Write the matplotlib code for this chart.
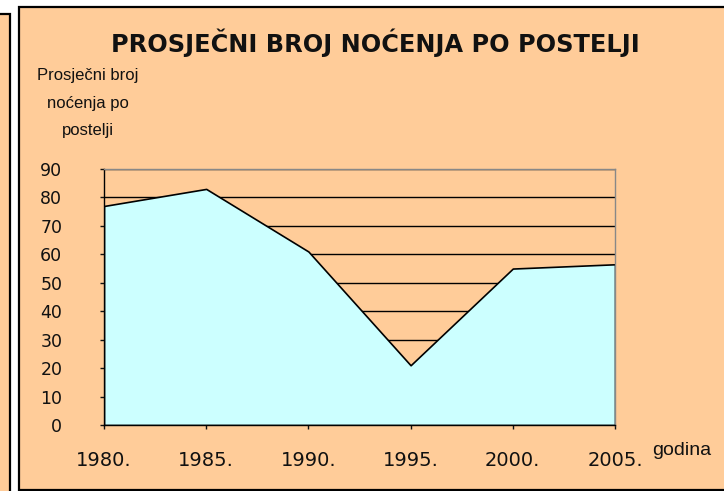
import matplotlib
matplotlib.use("Agg")
import matplotlib.pyplot as plt
from matplotlib.patches import Rectangle

# data
years = [1980, 1985, 1990, 1995, 2000, 2005]
nocenja = [77, 83, 61, 21, 55, 56.5]
year_labels = ["1980.", "1985.", "1990.", "1995.", "2000.", "2005."]
y_ticks = [0, 10, 20, 30, 40, 50, 60, 70, 80, 90]

W, H = 724, 491
orange = "#FFCC99"
cyan = "#CCFFFF"

def fx(px):
    return px / W

def fy(py):
    return 1 - py / H

fig = plt.figure(figsize=(W / 100, H / 100), dpi=100, facecolor="white")

# left neighbouring panel and main chart panel
fig.patches.append(Rectangle((fx(-10), fy(500)), fx(9.5) - fx(-10), fy(14) - fy(500),
                             transform=fig.transFigure, facecolor=orange,
                             edgecolor="black", lw=1.6, zorder=-2))
fig.patches.append(Rectangle((fx(18.5), fy(489.5)), fx(740) - fx(18.5), fy(6.5) - fy(489.5),
                             transform=fig.transFigure, facecolor=orange,
                             edgecolor="black", lw=1.6, zorder=-2))

ax = fig.add_axes([fx(104), fy(425), fx(615) - fx(104), fy(169) - fy(425)])
ax.set_facecolor(orange)

ax.fill_between(years, nocenja, 0, facecolor=cyan, edgecolor="black", lw=1.2, zorder=2)

ax.set_xlim(1980, 2005)
ax.set_ylim(0, 90)
ax.set_axisbelow(True)
ax.yaxis.grid(True, color="black", lw=1.0)

ax.set_yticks(y_ticks)
ax.set_yticklabels([str(v) for v in y_ticks], fontsize=12.5, family="DejaVu Sans")
ax.set_xticks(years)
ax.set_xticklabels(year_labels, fontsize=14, family="DejaVu Sans")
ax.tick_params(axis="y", direction="out", length=3, width=1, pad=27, colors="#111111")
ax.tick_params(axis="x", direction="out", length=3, width=1, pad=16, colors="#111111")

for s in ["left", "bottom"]:
    ax.spines[s].set_color("black")
    ax.spines[s].set_linewidth(1.0)
for s in ["top", "right"]:
    ax.spines[s].set_color("#888888")
    ax.spines[s].set_linewidth(1.0)
for s in ax.spines.values():
    s.set_zorder(3)

fig.text(fx(375), fy(43), "PROSJEČNI BROJ NOĆENJA PO POSTELJI", ha="center", va="center",
         fontsize=17.3, fontweight="bold", family="DejaVu Sans", color="#111111")
fig.text(fx(88), fy(68), "Prosječni broj\nnoćenja po\npostelji", ha="center", va="top",
         multialignment="center", fontsize=12, linespacing=2.05,
         family="Liberation Sans", color="#111111")
fig.text(fx(652), fy(455), "godina", ha="left", va="baseline", fontsize=14,
         family="Liberation Sans", color="#111111")

fig.savefig("out.png", dpi=100, facecolor=fig.get_facecolor())
